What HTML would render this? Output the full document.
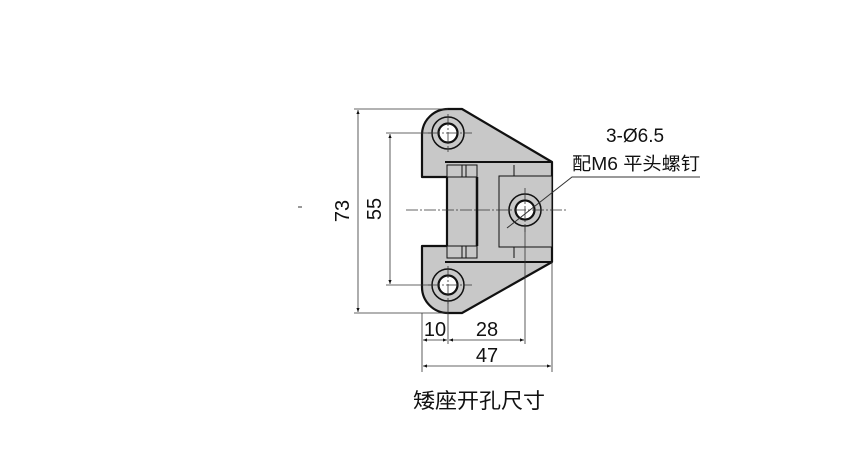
<!DOCTYPE html>
<html><head><meta charset="utf-8"><style>
html,body{margin:0;padding:0;background:#fff;}
svg{display:block;}
text{font-family:"Liberation Sans","Noto Sans CJK SC",sans-serif;fill:#111;}
</style></head><body>
<svg width="852" height="474" viewBox="0 0 852 474" xmlns="http://www.w3.org/2000/svg">
<defs>
<marker id="a" viewBox="0 0 10 10" refX="10" refY="5" markerWidth="7" markerHeight="5" orient="auto-start-reverse"><path d="M0,1 L10,5 L0,9z" fill="#111"/></marker>
</defs>
<line x1="298" y1="207" x2="302" y2="207" stroke="#333" stroke-width="1"/>
<path d="M422,177 L422,134 A26,26 0 0 1 448,109 L462,109 L552,162 L552,262 L462,313 L448,313 A26,26 0 0 1 422,287 L422,246 L447,246 L447,177 Z" fill="#c8c8c8" stroke="#111" stroke-width="2.2" stroke-linejoin="round"/>
<path d="M445,162 L552,162 M445,262 L552,262" stroke="#111" stroke-width="2"/>
<rect x="447" y="165" width="30" height="12" fill="#c8c8c8" stroke="#111" stroke-width="1"/>
<rect x="447" y="246" width="30" height="12" fill="#c8c8c8" stroke="#111" stroke-width="1"/>
<path d="M462,165 L462,177 M466,165 L466,177 M462,246 L462,258 M466,246 L466,258" stroke="#111" stroke-width="1"/>
<path d="M477,165 L477,258" stroke="#111" stroke-width="1"/>
<path d="M477,177 L477,246" stroke="#111" stroke-width="2.5"/>
<path d="M514,165 L514,176 M514,247 L514,258" stroke="#111" stroke-width="1"/>
<rect x="499" y="176" width="53" height="71" fill="#c8c8c8" stroke="#111" stroke-width="1"/>
<g stroke="#111" fill="#fff">
<circle cx="448" cy="133" r="16" fill="#c8c8c8" stroke-width="1.5"/><circle cx="448" cy="133" r="9.5" stroke-width="2.2"/>
<circle cx="448" cy="285" r="16" fill="#c8c8c8" stroke-width="1.5"/><circle cx="448" cy="285" r="9.5" stroke-width="2.2"/>
<circle cx="525" cy="210" r="16" fill="#c8c8c8" stroke-width="1.5"/><circle cx="525" cy="210" r="9.5" stroke-width="2.2"/>
</g>
<g stroke="#333" stroke-width="0.8" stroke-dasharray="12,2,2,2">
<line x1="406" y1="210" x2="568" y2="210"/>
<line x1="525" y1="188" x2="525" y2="232"/>
<line x1="428" y1="133" x2="472" y2="133"/>
<line x1="448" y1="114" x2="448" y2="152"/>
<line x1="428" y1="285" x2="472" y2="285"/>
<line x1="448" y1="266" x2="448" y2="304"/>
</g>
<path d="M507,228 L572,177 L700,177" stroke="#333" stroke-width="1" fill="none"/>
<g stroke="#333" stroke-width="0.8" fill="none">
<line x1="354" y1="109" x2="448" y2="109"/>
<line x1="354" y1="313" x2="448" y2="313"/>
<line x1="386" y1="133" x2="432" y2="133"/>
<line x1="386" y1="285" x2="432" y2="285"/>
<line x1="422" y1="313" x2="422" y2="372"/>
<line x1="448" y1="301" x2="448" y2="344"/>
<line x1="525" y1="226" x2="525" y2="344"/>
<line x1="552" y1="262" x2="552" y2="372"/>
<line x1="358" y1="110" x2="358" y2="312" marker-start="url(#a)" marker-end="url(#a)"/>
<line x1="390" y1="134" x2="390" y2="284" marker-start="url(#a)" marker-end="url(#a)"/>
<line x1="423" y1="340" x2="447" y2="340" marker-start="url(#a)" marker-end="url(#a)"/>
<line x1="449" y1="340" x2="524" y2="340" marker-start="url(#a)" marker-end="url(#a)"/>
<line x1="423" y1="366" x2="551" y2="366" marker-start="url(#a)" marker-end="url(#a)"/>
</g>
<text x="357" y="211" font-size="20" text-anchor="middle" transform="rotate(-90 357 211) translate(0,-8)">73</text>
<text x="389" y="209" font-size="20" text-anchor="middle" transform="rotate(-90 389 209) translate(0,-8)">55</text>
<text x="435" y="336" font-size="20" text-anchor="middle">10</text>
<text x="487" y="336" font-size="20" text-anchor="middle">28</text>
<text x="487" y="362" font-size="20" text-anchor="middle">47</text>
<text x="635" y="142" font-size="19" text-anchor="middle">3-Ø6.5</text>
<text x="572" y="170" font-size="18" textLength="128" lengthAdjust="spacingAndGlyphs">配M6 平头螺钉</text>
<text x="413" y="408" font-size="21" textLength="132" lengthAdjust="spacingAndGlyphs">矮座开孔尺寸</text>
</svg>
</body></html>
